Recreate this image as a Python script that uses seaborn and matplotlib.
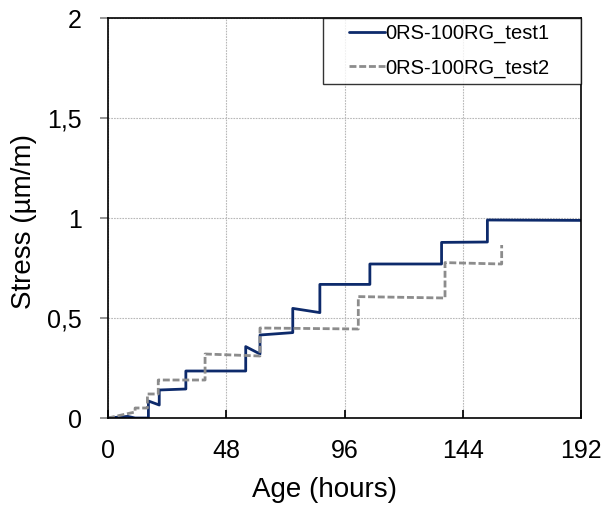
import matplotlib
matplotlib.use("Agg")
import matplotlib.pyplot as plt
import seaborn as sns
import pandas as pd
from matplotlib.lines import Line2D
from matplotlib.legend_handler import HandlerLine2D

# Data (age in hours, stress)
t1 = [0, 8, 11, 16.4, 16.4, 20.8, 20.8, 31.6, 31.6, 55.9, 55.9, 61.7, 61.7, 75, 75, 86, 86,
      106.3, 106.3, 135.4, 135.4, 154, 154, 192]
s1 = [0, 0.008, 0.0, 0.0, 0.085, 0.065, 0.14, 0.145, 0.235, 0.235, 0.357, 0.32, 0.415, 0.427,
      0.548, 0.527, 0.668, 0.668, 0.77, 0.77, 0.878, 0.88, 0.99, 0.988]
t2 = [0, 11, 11, 16, 16, 20.4, 20.4, 39.4, 39.4, 61.7, 61.7, 101.6, 101.6, 136.8, 136.8,
      159.8, 159.8]
s2 = [0, 0.03, 0.05, 0.05, 0.12, 0.12, 0.19, 0.19, 0.32, 0.31, 0.45, 0.445, 0.607, 0.6,
      0.777, 0.77, 0.865]
labels = ["0RS-100RG_test1", "0RS-100RG_test2"]
xticks = [0, 48, 96, 144, 192]
yticks = [0, 0.5, 1, 1.5, 2]
yticklabels = ["0", "0,5", "1", "1,5", "2"]

sns.set_theme(style="white")
plt.rcParams['font.family'] = ['Liberation Sans', 'DejaVu Sans']
plt.rcParams['text.color'] = 'black'
plt.rcParams['axes.labelcolor'] = 'black'

fig = plt.figure(figsize=(6.12, 5.07), dpi=100)
ax = fig.add_axes([108/612, 1-418/507, (581-108)/612, (418-18)/507])

df1 = pd.DataFrame({"t": t1, "s": s1})
df2 = pd.DataFrame({"t": t2, "s": s2})
sns.lineplot(data=df1, x="t", y="s", sort=False, estimator=None, ax=ax,
             color="#0d2a6b", lw=2.0, label=labels[0])
sns.lineplot(data=df2, x="t", y="s", sort=False, estimator=None, ax=ax,
             color="#8c8c8c", lw=2.0, linestyle=(0, (2.5, 1.0)), label=labels[1])

ax.set_xlim(0, 192)
ax.set_ylim(0, 2)
ax.set_xticks(xticks)
ax.set_xticklabels([str(v) for v in xticks])
ax.set_yticks(yticks)
ax.set_yticklabels(yticklabels)
ax.grid(True, color="#b8b8b8", lw=0.8, linestyle=(0, (1.5, 1)))
ax.tick_params(axis="x", labelsize=18, direction="in", length=6, color="black",
               labelcolor="black", bottom=True, pad=15)
ax.tick_params(axis="y", labelsize=18, direction="out", length=6, color="#888888",
               labelcolor="black", left=True, pad=13)
for sp in ax.spines.values():
    sp.set_color("black")
    sp.set_linewidth(1.2)
ax.set_xlabel("Age (hours)", fontsize=20, color="black")
ax.set_ylabel("Stress (µm/m)", fontsize=20, color="black")
ax.xaxis.set_label_coords(0.457, -0.148)
ax.yaxis.set_label_coords(-0.150, 0.491)

leg = ax.legend(loc="upper right", bbox_to_anchor=((323-108)/473, 0, (581-323)/473, 1.0),
                mode="expand", fontsize=14.5, frameon=True, fancybox=False,
                borderaxespad=0, handlelength=2.8, handletextpad=0.0,
                borderpad=0.3, labelspacing=0.75,
                handler_map={Line2D: HandlerLine2D(xpad=1.0)})
leg.get_frame().set_edgecolor("black")
leg.get_frame().set_linewidth(1.0)
for txt in leg.get_texts():
    txt.set_color("black")

fig.savefig("out.png", dpi=100)
